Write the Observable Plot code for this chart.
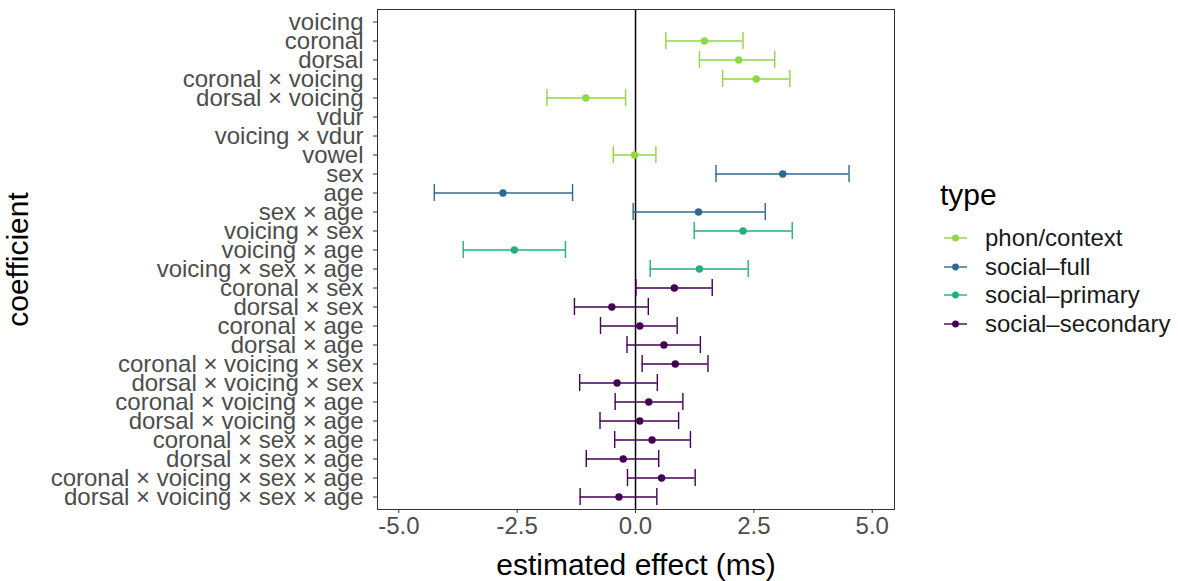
<!DOCTYPE html>
<html><head><meta charset="utf-8">
<script src="https://cdn.jsdelivr.net/npm/d3@7"></script>
<script src="https://cdn.jsdelivr.net/npm/@observablehq/plot@0.6"></script>
<style>
body{margin:0;background:#fff;font-family:"Liberation Sans",Arial,Helvetica,sans-serif;}
#wrap{position:relative;width:1178px;height:581px;overflow:hidden;}
#legend{position:absolute;left:940px;top:0;}
#legend .title{position:absolute;left:0px;top:177px;font-size:30px;color:#000;white-space:nowrap;line-height:36px;}
#legend .item{position:absolute;left:0;height:28px;display:flex;align-items:center;white-space:nowrap;font-size:24px;color:#1a1a1a;}
#legend .item svg{margin-right:18px;}
</style></head><body><div id="wrap"></div>
<script>
const terms = ["voicing","coronal","dorsal","coronal × voicing","dorsal × voicing","vdur","voicing × vdur","vowel","sex","age","sex × age","voicing × sex","voicing × age","voicing × sex × age","coronal × sex","dorsal × sex","coronal × age","dorsal × age","coronal × voicing × sex","dorsal × voicing × sex","coronal × voicing × age","dorsal × voicing × age","coronal × sex × age","dorsal × sex × age","coronal × voicing × sex × age","dorsal × voicing × sex × age"];
const types = ["phon/context","social–full","social–primary","social–secondary"];
const typeColors = ["#8FD744","#31688E","#26AD81","#440154"];
// per term (null = no estimate shown)
const termType = [null,"phon/context","phon/context","phon/context","phon/context",null,null,"phon/context","social–full","social–full","social–full","social–primary","social–primary","social–primary","social–secondary","social–secondary","social–secondary","social–secondary","social–secondary","social–secondary","social–secondary","social–secondary","social–secondary","social–secondary","social–secondary","social–secondary"];
const estimate = [null,1.455,2.18,2.55,-1.05,null,null,-0.02,3.11,-2.80,1.33,2.27,-2.56,1.35,0.82,-0.50,0.09,0.60,0.84,-0.39,0.28,0.09,0.35,-0.26,0.55,-0.35];
const lower = [null,0.64,1.35,1.84,-1.87,null,null,-0.47,1.70,-4.25,-0.05,1.24,-3.64,0.31,0.01,-1.29,-0.74,-0.18,0.14,-1.18,-0.43,-0.75,-0.44,-1.04,-0.17,-1.17];
const upper = [null,2.27,2.94,3.26,-0.21,null,null,0.43,4.51,-1.33,2.74,3.31,-1.48,2.38,1.62,0.27,0.88,1.37,1.53,0.46,1.00,0.91,1.16,0.49,1.26,0.45];
const xTicks = [-5, -2.5, 0, 2.5, 5];
const xTickLabels = ["-5.0","-2.5","0.0","2.5","5.0"];

const rows = terms.map((t, i) => ({term: t, type: termType[i], est: estimate[i], lo: lower[i], hi: upper[i]}))
  .filter(d => d.est != null);

const font = '"Liberation Sans", Arial, Helvetica, sans-serif';
const chart = Plot.plot({
  width: 1178, height: 581,
  marginLeft: 377, marginRight: 284, marginTop: 9, marginBottom: 72,
  style: {fontFamily: font, background: "white", overflow: "visible"},
  x: {domain: [-5.45, 5.47]},
  y: {type: "band", domain: terms, paddingInner: 0.1, paddingOuter: 0.15},
  color: {domain: types, range: typeColors},
  marks: [
    Plot.ruleX([0], {stroke: "black", strokeWidth: 1.5}),
    Plot.ruleY(rows, {y: "term", x1: "lo", x2: "hi", stroke: "type", strokeWidth: 1.4}),
    Plot.tickX(rows, {x: "lo", y: "term", stroke: "type", strokeWidth: 1.4}),
    Plot.tickX(rows, {x: "hi", y: "term", stroke: "type", strokeWidth: 1.4}),
    Plot.dot(rows, {x: "est", y: "term", fill: "type", r: 3.7}),
    Plot.frame({stroke: "#333333", strokeWidth: 1}),
    Plot.axisY({tickSize: 4, tickPadding: 10, fontSize: 24, fill: "#4d4d4d", stroke: "#333333", label: null}),
    Plot.axisX({ticks: xTicks, tickFormat: d => xTickLabels[xTicks.indexOf(d)], tickSize: 4, tickPadding: 3, fontSize: 24, fill: "#4d4d4d", stroke: "#333333", label: null}),
    Plot.text(["coefficient"], {text: d => d, frameAnchor: "left", dx: -359, rotate: -90, textAnchor: "middle", lineAnchor: "middle", fontSize: 30, fill: "black"}),
    Plot.text(["estimated effect (ms)"], {text: d => d, frameAnchor: "bottom", dy: 56, textAnchor: "middle", lineAnchor: "middle", fontSize: 30, fill: "black"})
  ]
});
const wrap = document.getElementById("wrap");
wrap.appendChild(chart);

// legend
const legend = d3.select(wrap).append("div").attr("id", "legend");
legend.append("div").attr("class", "title").text("type");
types.forEach((t, i) => {
  const item = legend.append("div").attr("class", "item").style("top", (224 + i * 28.6) + "px");
  const svg = item.append("svg").attr("width", 27).attr("height", 12);
  svg.append("line").attr("x1", 4).attr("x2", 27).attr("y1", 6).attr("y2", 6).attr("stroke", typeColors[i]).attr("stroke-width", 1.4);
  svg.append("circle").attr("cx", 15.5).attr("cy", 6).attr("r", 3.4).attr("fill", typeColors[i]);
  item.append("span").text(t);
});
</script></body></html>
